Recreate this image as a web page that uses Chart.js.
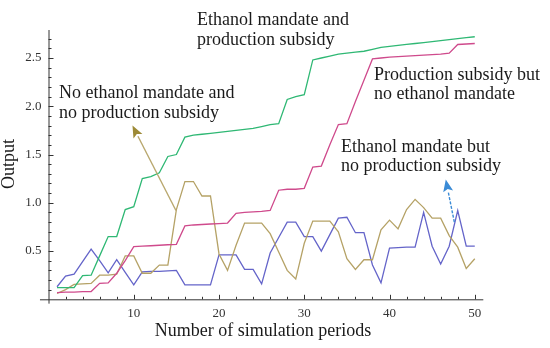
<!DOCTYPE html>
<html>
<head>
<meta charset="utf-8">
<script src="https://cdn.jsdelivr.net/npm/chart.js@4.4.1/dist/chart.umd.min.js"></script>
<style>
  html, body { margin: 0; padding: 0; background: #fff; }
  #wrap { width: 550px; height: 348px; position: relative; }
</style>
</head>
<body>
<div id="wrap"><canvas id="outputChart"></canvas></div>
<script>
var periods = [1, 2, 3, 4, 5, 6, 7, 8, 9, 10, 11, 12, 13, 14, 15, 16, 17, 18, 19, 20,
               21, 22, 23, 24, 25, 26, 27, 28, 29, 30, 31, 32, 33, 34, 35, 36, 37, 38, 39, 40,
               41, 42, 43, 44, 45, 46, 47, 48, 49, 50];

// Ethanol mandate and production subsidy
var mandateAndSubsidy = [0.12, 0.12, 0.12, 0.245, 0.25, 0.45, 0.65, 0.65, 0.93, 0.96,
                         1.25, 1.27, 1.31, 1.48, 1.50, 1.68, 1.70, 1.71, 1.72, 1.73,
                         1.74, 1.75, 1.76, 1.77, 1.79, 1.81, 1.82, 2.07, 2.10, 2.12,
                         2.48, 2.50, 2.52, 2.54, 2.55, 2.56, 2.57, 2.59, 2.61, 2.62,
                         2.63, 2.64, 2.65, 2.66, 2.67, 2.68, 2.69, 2.70, 2.71, 2.72];

// Production subsidy but no ethanol mandate
var subsidyOnly = [0.07, 0.075, 0.075, 0.08, 0.08, 0.165, 0.17, 0.27, 0.40, 0.545,
                   0.55, 0.555, 0.56, 0.565, 0.57, 0.76, 0.77, 0.775, 0.78, 0.785,
                   0.79, 0.89, 0.90, 0.905, 0.91, 0.92, 1.13, 1.14, 1.14, 1.15,
                   1.37, 1.38, 1.60, 1.81, 1.82, 2.05, 2.27, 2.49, 2.50, 2.51,
                   2.515, 2.52, 2.525, 2.53, 2.535, 2.54, 2.55, 2.64, 2.645, 2.65];

// No ethanol mandate and no production subsidy
var neitherPolicy = [0.06, 0.10, 0.155, 0.16, 0.165, 0.25, 0.25, 0.26, 0.45, 0.45,
                     0.27, 0.27, 0.355, 0.355, 0.93, 1.22, 1.22, 1.07, 1.07, 0.47,
                     0.30, 0.56, 0.79, 0.79, 0.79, 0.68, 0.49, 0.30, 0.21, 0.58,
                     0.81, 0.81, 0.81, 0.70, 0.42, 0.31, 0.41, 0.41, 0.72, 0.82,
                     0.73, 0.93, 1.035, 0.95, 0.84, 0.84, 0.66, 0.54, 0.32, 0.42];

// Ethanol mandate but no production subsidy
var mandateOnly = [0.13, 0.24, 0.26, 0.39, 0.52, 0.40, 0.275, 0.41, 0.28, 0.15,
                   0.285, 0.29, 0.29, 0.295, 0.30, 0.15, 0.15, 0.15, 0.15, 0.46,
                   0.46, 0.46, 0.31, 0.31, 0.16, 0.48, 0.64, 0.80, 0.80, 0.65,
                   0.65, 0.50, 0.67, 0.84, 0.85, 0.69, 0.69, 0.355, 0.17, 0.53,
                   0.535, 0.54, 0.54, 0.90, 0.55, 0.365, 0.55, 0.92, 0.55, 0.55];

var xTickValues = [10, 20, 30, 40, 50];
var yTickValues = [0.5, 1.0, 1.5, 2.0, 2.5];

var SERIF = '"Liberation Serif", "DejaVu Serif", serif';

function toPoints(values) {
    return periods.map(function (p, i) { return { x: p, y: values[i] }; });
}

function lineSet(label, values, color) {
    return {
        label: label,
        data: toPoints(values),
        borderColor: color,
        borderWidth: 1.3,
        pointRadius: 0,
        tension: 0,
        fill: false
    };
}

function drawArrow(ctx, x1, y1, x2, y2, color, headColor, dash) {
    var ang = Math.atan2(y2 - y1, x2 - x1);
    var len = 12, half = 5;
    var bx = x2 - len * Math.cos(ang), by = y2 - len * Math.sin(ang);
    ctx.save();
    ctx.strokeStyle = color;
    ctx.lineWidth = 1.4;
    if (dash) ctx.setLineDash(dash);
    ctx.beginPath();
    ctx.moveTo(x1, y1);
    ctx.lineTo(bx, by);
    ctx.stroke();
    ctx.setLineDash([]);
    ctx.fillStyle = headColor;
    ctx.beginPath();
    ctx.moveTo(x2, y2);
    ctx.lineTo(bx + half * Math.sin(ang), by - half * Math.cos(ang));
    ctx.lineTo(bx + 2.5 * Math.cos(ang), by + 2.5 * Math.sin(ang));
    ctx.lineTo(bx - half * Math.sin(ang), by + half * Math.cos(ang));
    ctx.closePath();
    ctx.fill();
    ctx.restore();
}

// mathematica-style axes crossing at the origin, ticks pointing inward
var axesPlugin = {
    id: 'crossAxes',
    beforeDatasetsDraw: function (chart) {
        var ctx = chart.ctx;
        var xs = chart.scales.x, ys = chart.scales.y;
        var x0 = xs.getPixelForValue(0), y0 = ys.getPixelForValue(0);
        ctx.save();
        ctx.strokeStyle = '#333';
        ctx.lineWidth = 1;
        ctx.beginPath();
        ctx.moveTo(xs.getPixelForValue(-1), y0 + 0.5);
        ctx.lineTo(xs.getPixelForValue(51), y0 + 0.5);
        ctx.moveTo(x0 + 0.5, ys.getPixelForValue(-0.045));
        ctx.lineTo(x0 + 0.5, ys.getPixelForValue(2.79));
        for (var i = 2; i <= 50; i += 2) {
            var px = Math.round(xs.getPixelForValue(i)) + 0.5;
            var tl = (i % 10 === 0) ? 4.5 : 2.5;
            ctx.moveTo(px, y0);
            ctx.lineTo(px, y0 - tl);
        }
        for (var k = 1; k <= 27; k++) {
            var py = Math.round(ys.getPixelForValue(k / 10)) + 0.5;
            var tk = (k % 5 === 0) ? 5 : 3;
            ctx.moveTo(x0, py);
            ctx.lineTo(x0 + tk, py);
        }
        ctx.stroke();
        ctx.restore();
    },
    afterDatasetsDraw: function (chart) {
        var ctx = chart.ctx;
        var xs = chart.scales.x, ys = chart.scales.y;
        ctx.save();
        ctx.fillStyle = '#1a1a1a';
        ctx.font = '18px ' + SERIF;
        ctx.textAlign = 'left';
        ctx.textBaseline = 'alphabetic';
        ctx.fillText('Ethanol mandate and', 197, 25);
        ctx.fillText('production subsidy', 197, 45);
        ctx.fillText('No ethanol mandate and', 59, 98);
        ctx.fillText('no production subsidy', 59, 118);
        ctx.fillText('Production subsidy but', 374, 80);
        ctx.fillText('no ethanol mandate', 374, 99);
        ctx.fillText('Ethanol mandate but', 341, 152);
        ctx.fillText('no production subsidy', 341, 171);

        // axis titles
        ctx.textAlign = 'center';
        ctx.textBaseline = 'middle';
        ctx.fillText('Number of simulation periods', 263, 331);
        ctx.translate(9, 164);
        ctx.rotate(-Math.PI / 2);
        ctx.fillText('Output', 0, 0);
        ctx.restore();

        drawArrow(ctx, xs.getPixelForValue(14.95), ys.getPixelForValue(0.92),
                  xs.getPixelForValue(9.85), ys.getPixelForValue(1.80),
                  '#b9a86f', '#9d8a36', null);
        drawArrow(ctx, xs.getPixelForValue(47.6), ys.getPixelForValue(0.80),
                  xs.getPixelForValue(46.6), ys.getPixelForValue(1.24),
                  '#3b8bd6', '#3b8bd6', [3, 1.5]);
    }
};

var ctx = document.getElementById('outputChart').getContext('2d');

new Chart(ctx, {
    type: 'line',
    data: {
        datasets: [
            lineSet('Ethanol mandate and production subsidy', mandateAndSubsidy, '#2fb874'),
            lineSet('Production subsidy but no ethanol mandate', subsidyOnly, '#cf4a8c'),
            lineSet('No ethanol mandate and no production subsidy', neitherPolicy, '#b5a266'),
            lineSet('Ethanol mandate but no production subsidy', mandateOnly, '#6464c9')
        ]
    },
    options: {
        responsive: true,
        maintainAspectRatio: false,
        animation: false,
        layout: {
            padding: { left: 0, top: 30, right: 66.7, bottom: 0 }
        },
        plugins: {
            legend: { display: false },
            tooltip: { enabled: false }
        },
        scales: {
            x: {
                type: 'linear',
                min: 0,
                max: 51,
                grid: { display: false, drawTicks: false },
                border: { display: false },
                afterBuildTicks: function (scale) {
                    scale.ticks = xTickValues.map(function (v) { return { value: v }; });
                },
                afterFit: function (scale) { scale.height = 48.7; },
                ticks: {
                    color: '#333',
                    font: { family: SERIF, size: 13 },
                    padding: 6,
                    maxRotation: 0,
                    autoSkip: false
                }
            },
            y: {
                type: 'linear',
                min: 0,
                max: 2.79,
                grid: { display: false, drawTicks: false },
                border: { display: false },
                afterBuildTicks: function (scale) {
                    scale.ticks = yTickValues.map(function (v) { return { value: v }; });
                },
                afterFit: function (scale) { scale.width = 48.5; },
                ticks: {
                    color: '#333',
                    font: { family: SERIF, size: 13 },
                    padding: 7,
                    autoSkip: false,
                    callback: function (value) { return value.toFixed(1); }
                }
            }
        }
    },
    plugins: [axesPlugin]
});
</script>
</body>
</html>
